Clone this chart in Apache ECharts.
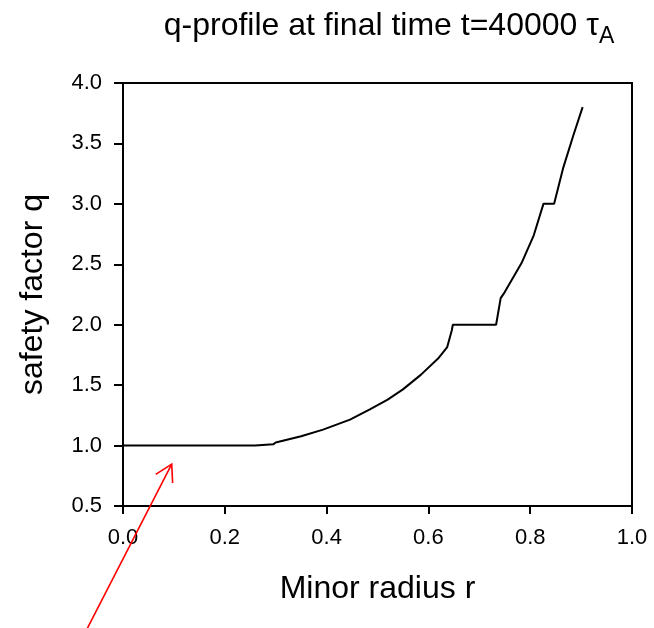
<!DOCTYPE html>
<html>
<head>
<meta charset="utf-8">
<script src="https://cdn.jsdelivr.net/npm/echarts@6/dist/echarts.min.js"></script>
<style>
html,body{margin:0;padding:0;background:#fff;}
#chart{width:654px;height:628px;}
</style>
</head>
<body>
<div id="chart"></div>
<script>
// ---- data ----
const minorRadius = [0, 0.26, 0.262, 0.295, 0.30, 0.314, 0.35, 0.393, 0.446, 0.485, 0.52, 0.55, 0.585, 0.619, 0.637, 0.646, 0.648, 0.733, 0.742, 0.750, 0.783, 0.807, 0.826, 0.847, 0.865, 0.885, 0.903];
const safetyFactor = [1.0, 1.0, 1.01, 1.01, 1.025, 1.04, 1.077, 1.132, 1.215, 1.30, 1.38, 1.465, 1.585, 1.72, 1.815, 1.955, 2.0, 2.0, 2.22, 2.27, 2.51, 2.74, 3.0, 3.0, 3.30, 3.57, 3.80];
const xTicks = [0, 0.2, 0.4, 0.6, 0.8, 1.0];
const yTicks = [0.5, 1.0, 1.5, 2.0, 2.5, 3.0, 3.5, 4.0];
const arrowTip = [0.0957, 0.847];
const arrowTail = [-0.071, -0.52];

const font = '"Liberation Sans", Arial, sans-serif';
const chart = echarts.init(document.getElementById('chart'), null, {renderer: 'canvas'});

const seriesData = minorRadius.map((r, i) => [r, safetyFactor[i]]);

chart.setOption({
  animation: false,
  backgroundColor: '#fff',
  title: {
    text: 'q-profile at final time t=40000 τ{sub|A}',
    left: 384,
    textAlign: 'center',
    top: 0,
    textStyle: {
      fontFamily: font, fontSize: 32, fontWeight: 'normal', color: '#000',
      rich: {
        sub: {fontFamily: font, fontSize: 23, color: '#000', padding: [20, 0, 0, 0], verticalAlign: 'bottom'}
      }
    }
  },
  grid: {left: 123, top: 83, right: 22, bottom: 122, show: true, borderColor: '#000', borderWidth: 2, containLabel: false},
  xAxis: {
    type: 'value', min: xTicks[0], max: xTicks[xTicks.length - 1], interval: 0.2,
    name: 'Minor radius r', nameLocation: 'middle', nameGap: 67,
    nameTextStyle: {fontFamily: font, fontSize: 32, color: '#000'},
    axisLine: {show: true, onZero: false, lineStyle: {color: '#000', width: 2}},
    axisTick: {show: true, inside: false, length: 8, lineStyle: {color: '#000', width: 2}},
    axisLabel: {fontFamily: font, fontSize: 22, color: '#000', margin: 21, formatter: v => v.toFixed(1)},
    splitLine: {show: false}
  },
  yAxis: {
    type: 'value', min: yTicks[0], max: yTicks[yTicks.length - 1], interval: 0.5,
    name: 'safety factor q', nameLocation: 'middle', nameGap: 74,
    nameTextStyle: {fontFamily: font, fontSize: 32, color: '#000'},
    axisLine: {show: true, onZero: false, lineStyle: {color: '#000', width: 2}},
    axisTick: {show: true, inside: false, length: 9, lineStyle: {color: '#000', width: 2}},
    axisLabel: {fontFamily: font, fontSize: 22, color: '#000', margin: 21, formatter: v => v.toFixed(1)},
    splitLine: {show: false}
  },
  series: [{
    type: 'line',
    data: seriesData,
    showSymbol: false,
    symbol: 'none',
    lineStyle: {color: '#000', width: 2},
    clip: true,
    z: 3
  }]
});

// red annotation arrow positioned via the chart's own scales
const tip = chart.convertToPixel({gridIndex: 0}, arrowTip);
const tail = chart.convertToPixel({gridIndex: 0}, arrowTail);
const dx = tail[0] - tip[0], dy = tail[1] - tip[1];
const len = Math.sqrt(dx * dx + dy * dy);
const ux = dx / len, uy = dy / len;
const headLen = 19, ang = 30 * Math.PI / 180;
function rot(x, y, a) { return [x * Math.cos(a) - y * Math.sin(a), x * Math.sin(a) + y * Math.cos(a)]; }
const b1 = rot(ux, uy, ang), b2 = rot(ux, uy, -ang);
chart.setOption({
  graphic: [
    {type: 'line', shape: {x1: tail[0], y1: tail[1], x2: tip[0], y2: tip[1]}, style: {stroke: '#ff0000', lineWidth: 1.6}, z: 10},
    {type: 'polyline', shape: {points: [[tip[0] + b1[0] * headLen, tip[1] + b1[1] * headLen], tip, [tip[0] + b2[0] * headLen, tip[1] + b2[1] * headLen]]}, style: {stroke: '#ff0000', lineWidth: 1.6, fill: null}, z: 10}
  ]
});
</script>
</body>
</html>
